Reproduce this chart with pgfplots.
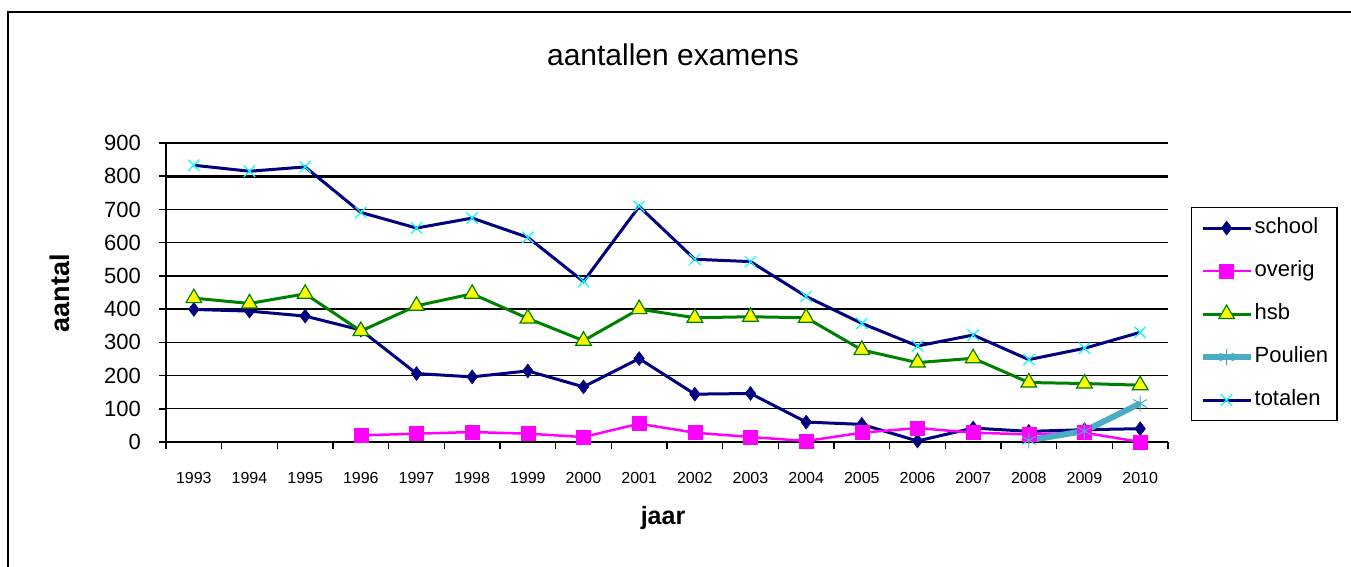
\documentclass[border=0pt]{standalone}
\usepackage{pgfplots}
\pgfplotsset{compat=1.18}
\usepackage{fontspec}
\setmainfont{Liberation Sans}
\definecolor{navyc}{RGB}{0,0,128}
\definecolor{magc}{RGB}{255,0,255}
\definecolor{greenc}{RGB}{0,128,0}
\definecolor{yelc}{RGB}{255,255,0}
\definecolor{poulc}{RGB}{75,172,198}
\definecolor{cyanc}{RGB}{0,255,255}
\begin{document}
\begin{tikzpicture}[x=1pt,y=1pt]
\path[use as bounding box] (0,0) rectangle (1351,567);
\draw[line width=2pt] (8,0) -- (8,555) -- (1351,555);
\begin{axis}[
  at={(166pt,125pt)}, anchor=south west,
  scale only axis, width=1002pt, height=299pt,
  xmin=-0.5, xmax=17.5, ymin=0, ymax=900,
  axis x line*=bottom, axis y line*=left,
  axis line style={line width=2.5pt, black},
  xtick={0,...,17},
  xticklabels={1993,1994,1995,1996,1997,1998,1999,2000,2001,2002,2003,2004,2005,2006,2007,2008,2009,2010},
  major x tick style={draw=none},
  minor xtick={-0.5,0.5,...,17.5},
  minor x tick style={black, line width=1.5pt},
  minor tick length=7pt,
  ytick={0,100,...,900},
  major y tick style={black, line width=1.5pt},
  major tick length=7pt,
  tick align=outside,
  ymajorgrids, grid style={black, line width=1.3pt},
  /pgf/number format/assume math mode=true,
  xticklabel style={font=\fontsize{16}{18}\selectfont, anchor=center, yshift=-29pt, inner sep=0pt},
  yticklabel style={font=\fontsize{22}{24}\selectfont, anchor=east, inner sep=0pt, xshift=-18pt},
  title={aantallen examens},
  title style={font=\fontsize{30}{32}\selectfont, at={(axis description cs:0.506,1.275)}, anchor=center},
  xlabel={\textbf{jaar}},
  xlabel style={font=\fontsize{25}{27}\selectfont, at={(axis description cs:0.496,-0.254)}, anchor=center},
  ylabel={\textbf{aantal}},
  ylabel style={font=\fontsize{27}{29}\selectfont, at={(axis description cs:-0.1058,0.498)}, anchor=center, rotate=0},
  legend style={at={(1.023,0.786)}, anchor=north west, draw=black, line width=1.2pt,
    font=\fontsize{22}{24}\selectfont, inner xsep=8pt, inner ysep=10pt,
    nodes={inner sep=1pt, text height=15pt, text depth=4pt}, row sep=22pt},
  legend cell align=left,
  legend image code/.code={\draw[mark repeat=2,mark phase=2,#1] plot coordinates {(0pt,0pt)(24pt,0pt)(48pt,0pt)};},
]
\draw[black, line width=2.6pt] (axis cs:-0.5,500) -- (axis cs:17.5,500);
\draw[black, line width=2.6pt] (axis cs:-0.5,800) -- (axis cs:17.5,800);
\addplot[navyc, line width=3pt, mark=diamond*, mark size=7pt, mark options={solid, fill=navyc, draw=navyc, line width=0.5pt}]
coordinates {(0,399)(1,394)(2,379)(3,337)(4,206)(5,196)(6,214)(7,166)(8,251)(9,144)(10,146)(11,60)(12,53)(13,3)(14,42)(15,32)(16,37)(17,40)};
\addlegendentry{school}
\addplot[magc, line width=2.5pt, mark=square*, mark size=7pt, mark options={solid, fill=magc, draw=magc, line width=0.5pt}]
coordinates {(3,20)(4,25)(5,30)(6,25)(7,15)(8,55)(9,28)(10,15)(11,3)(12,28)(13,42)(14,28)(15,23)(16,28)(17,0)};
\addlegendentry{overig}
\addplot[greenc, line width=3pt, mark=triangle*, mark size=9pt, mark options={solid, fill=yelc, draw=greenc, line width=1.2pt}]
coordinates {(0,433)(1,417)(2,446)(3,334)(4,410)(5,446)(6,372)(7,305)(8,400)(9,374)(10,377)(11,374)(12,277)(13,239)(14,252)(15,179)(16,176)(17,171)};
\addlegendentry{hsb}
\addplot[poulc, line width=6pt, mark=asterisk, mark size=8pt, mark options={solid, draw=poulc, line width=1pt}]
coordinates {(15,5)(16,33)(17,116)};
\addlegendentry{Poulien}
\addplot[navyc, line width=3pt, mark=x, mark size=8pt, mark options={solid, draw=cyanc, line width=1.2pt}]
coordinates {(0,833)(1,815)(2,828)(3,691)(4,644)(5,674)(6,616)(7,483)(8,709)(9,550)(10,543)(11,438)(12,357)(13,289)(14,322)(15,248)(16,282)(17,330)};
\addlegendentry{totalen}
\end{axis}
\end{tikzpicture}
\end{document}
